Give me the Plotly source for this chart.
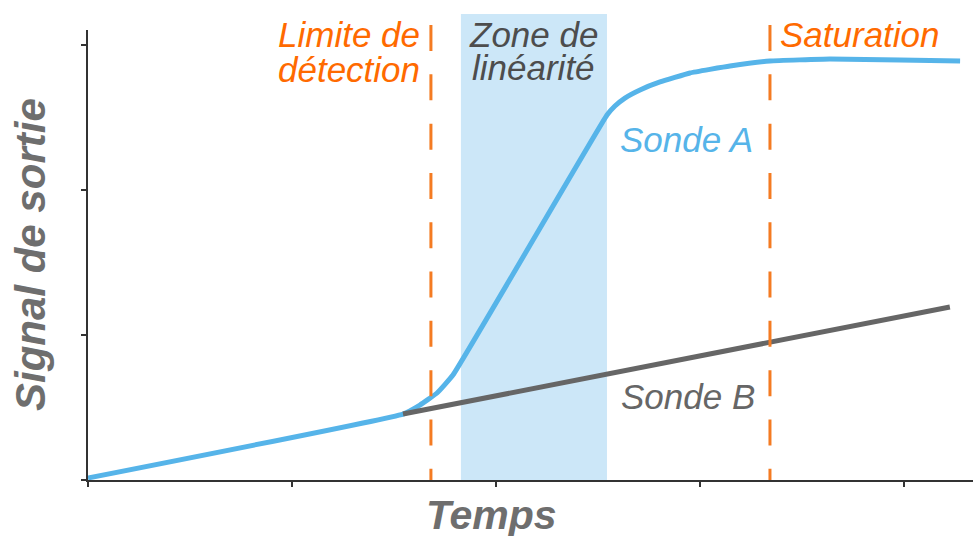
import plotly.graph_objects as go

# Data (time units, signal units)
sonde_a_x = [0.0, 1.544, 1.627, 1.711, 1.789, 2.544, 2.583, 2.632, 2.706, 2.804, 2.951, 3.147, 3.343, 3.637, 3.980, 4.275]
sonde_a_y = [0.014, 0.455, 0.517, 0.600, 0.724, 2.517, 2.579, 2.634, 2.690, 2.745, 2.807, 2.855, 2.890, 2.903, 2.897, 2.890]
sonde_b_x = [1.544, 4.225]
sonde_b_y = [0.455, 1.193]

limite_x = 1.681
saturation_x = 3.343
zone_lin = [1.828, 2.544]

x_ticks = [0, 1, 2, 3, 4]
y_ticks = [0, 1, 2, 3]

BLUE = "#56B4E9"
GRAY = "#666666"
ORANGE_TXT = "#FF6A00"
ORANGE_LINE = "#F47B22"
FONT = "Liberation Sans, Arial, sans-serif"

fig = go.Figure()
fig.add_trace(go.Scatter(x=sonde_a_x, y=sonde_a_y, mode="lines", line_shape="spline",
                         line=dict(color=BLUE, width=5, smoothing=0.3), showlegend=False, hoverinfo="skip"))
fig.add_trace(go.Scatter(x=sonde_b_x, y=sonde_b_y, mode="lines",
                         line=dict(color=GRAY, width=5), showlegend=False, hoverinfo="skip"))

# shaded linear zone
fig.add_shape(type="rect", xref="x", yref="paper", x0=zone_lin[0], x1=zone_lin[1],
              y0=0, y1=1.0356, fillcolor="#CCE7F8", line=dict(width=0), layer="below")
for xv in [limite_x, saturation_x]:
    fig.add_shape(type="line", xref="x", yref="paper", x0=xv, x1=xv, y0=1.011, y1=0,
                  line=dict(color=ORANGE_LINE, width=3, dash="26px,23.3px"), layer="above")

def ann(text, x, y, color, size, xanchor="center", bold=False):
    t = f"<b><i>{text}</i></b>" if bold else f"<i>{text}</i>"
    fig.add_annotation(text=t, x=x, y=y, xref="x", yref="y", showarrow=False,
                       xanchor=xanchor, yanchor="middle",
                       font=dict(family=FONT, size=size, color=color))

ann("Limite de", 1.637, 3.075, ORANGE_TXT, 35, "right")
ann("détection", 1.637, 2.828, ORANGE_TXT, 35, "right")
ann("Zone de", 2.186, 3.075, "#4D4D4D", 35)
ann("linéarité", 2.186, 2.842, "#4D4D4D", 35)
ann("Saturation", 3.380, 3.075, ORANGE_TXT, 35, "left")
ann("Sonde A", 2.936, 2.350, BLUE, 35)
ann("Sonde B", 2.941, 0.579, GRAY, 35)

fig.add_annotation(text="<b><i>Signal de sortie</i></b>", xref="paper", yref="paper",
                   x=-58/885, y=0.5, textangle=-90, showarrow=False,
                   xanchor="center", yanchor="middle",
                   font=dict(family=FONT, size=42, color="#6E6E6E"))
fig.add_annotation(text="<b><i>Temps</i></b>", xref="paper", yref="paper",
                   x=(491-88)/885, y=-(515-480)/450, showarrow=False,
                   xanchor="center", yanchor="middle",
                   font=dict(family=FONT, size=41, color="#6E6E6E"))

fig.update_layout(
    width=973, height=536,
    margin=dict(l=88, r=0, t=30, b=56),
    plot_bgcolor="white", paper_bgcolor="white",
    xaxis=dict(range=[0, 885/204], tickvals=x_ticks, showticklabels=False, ticks="outside",
               ticklen=5, tickwidth=2, tickcolor="#333", showline=True, linecolor="#333",
               linewidth=2, showgrid=False, zeroline=False, fixedrange=True),
    yaxis=dict(range=[0, 450/145], tickvals=y_ticks, showticklabels=False, ticks="outside",
               ticklen=5, tickwidth=2, tickcolor="#333", showline=True, linecolor="#333",
               linewidth=2, showgrid=False, zeroline=False, fixedrange=True),
)

fig.write_html("out.html", config={"displayModeBar": False},
               post_script="document.body.style.margin='0px';document.body.style.overflow='hidden';")
